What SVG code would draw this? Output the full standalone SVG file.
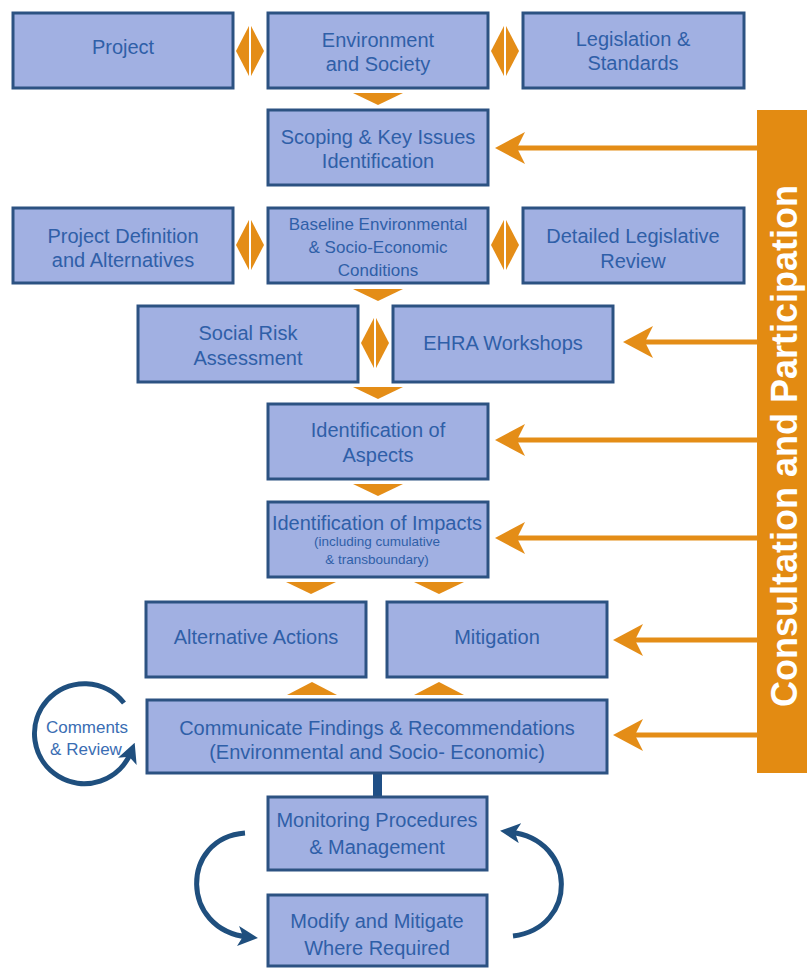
<svg xmlns="http://www.w3.org/2000/svg" xmlns:xlink="http://www.w3.org/1999/xlink" width="807" height="969" viewBox="0 0 807 969">
  <defs>
    <style>
      .box { fill: #a1b0e2; stroke: #2c5282; stroke-width: 3; }
      .lbl { font-family: "Liberation Sans", Arial, sans-serif; font-size: 20px; fill: #2f5fa8; text-anchor: middle; }
      .sm { font-size: 17px; }
      .xs { font-size: 13.5px; }
      .cmt { font-family: "Liberation Sans", Arial, sans-serif; font-size: 17px; fill: #3a6db3; text-anchor: middle; }
      .org { fill: #e48d17; }
      .oline { stroke: #e48d17; stroke-width: 5; fill: none; }
      .blue { stroke: #1f4f7e; stroke-width: 5; fill: none; }
      .split { stroke: #ffffff; stroke-width: 2; }
      .banner-text { font-family: "Liberation Sans", Arial, sans-serif; font-weight: bold; font-size: 36px; fill: #ffffff; text-anchor: middle; }
    </style>
    <!-- swept orange arrowhead, tip at origin, pointing left -->
    <path id="oh" d="M0,0 L30,-16 L22,0 L30,16 Z"/>
    <!-- two-way orange diamond with a white split -->
    <g id="dia">
      <polygon class="org" points="0,-27 14,0 0,27 -14,0"/>
      <line class="split" x1="0" y1="-27" x2="0" y2="27"/>
    </g>
    <polygon id="down" points="-25,0 25,0 0,12"/>
    <polygon id="up" points="-25,0 25,0 0,-13"/>
    <marker id="bh" viewBox="0 0 12 12" refX="6" refY="6" markerWidth="4" markerHeight="4" orient="auto">
      <path d="M0,0 L12,6 L0,12 L3,6 Z" fill="#1f4f7e"/>
    </marker>
  </defs>

  <rect width="807" height="969" fill="#ffffff"/>

  <!-- Consultation and Participation banner -->
  <g id="banner">
    <rect x="757" y="110" width="50" height="663" fill="#e38b12"/>
    <text class="banner-text" transform="translate(797,446) rotate(-90)">Consultation and Participation</text>
  </g>

  <!-- connectors -->
  <g id="connectors">
    <!-- two-way links -->
    <use xlink:href="#dia" x="250" y="51"/>
    <use xlink:href="#dia" x="505" y="51"/>
    <use xlink:href="#dia" x="250" y="245"/>
    <use xlink:href="#dia" x="505" y="245"/>
    <use xlink:href="#dia" x="375" y="343"/>

    <!-- downward flow -->
    <g class="org">
      <use xlink:href="#down" x="378" y="93"/>
      <use xlink:href="#down" x="378" y="289"/>
      <use xlink:href="#down" x="378" y="387"/>
      <use xlink:href="#down" x="378" y="484"/>
      <use xlink:href="#down" x="311" y="582"/>
      <use xlink:href="#down" x="439" y="582"/>
      <use xlink:href="#up" x="312" y="695"/>
      <use xlink:href="#up" x="439" y="695"/>
    </g>

    <!-- consultation inputs -->
    <g class="org">
      <line class="oline" x1="515" y1="148" x2="758" y2="148"/>
      <use xlink:href="#oh" x="495" y="148"/>
      <line class="oline" x1="643" y1="342" x2="758" y2="342"/>
      <use xlink:href="#oh" x="623" y="342"/>
      <line class="oline" x1="515" y1="440" x2="758" y2="440"/>
      <use xlink:href="#oh" x="495" y="440"/>
      <line class="oline" x1="515" y1="538" x2="758" y2="538"/>
      <use xlink:href="#oh" x="495" y="538"/>
      <line class="oline" x1="633" y1="640" x2="758" y2="640"/>
      <use xlink:href="#oh" x="613" y="640"/>
      <line class="oline" x1="633" y1="735" x2="758" y2="735"/>
      <use xlink:href="#oh" x="613" y="735"/>
    </g>

    <!-- comments and review loop -->
    <path class="blue" d="M124,703 A50,50 0 1 0 131,752" marker-end="url(#bh)"/>

    <!-- link to monitoring -->
    <rect x="373" y="773" width="9" height="25" fill="#1f4f86"/>

    <!-- monitoring feedback loop -->
    <path class="blue" d="M245,833 C180,838 180,930 248,937" marker-end="url(#bh)"/>
    <path class="blue" d="M513,936 C578,928 578,840 510,832" marker-end="url(#bh)"/>
  </g>

  <!-- nodes -->
  <g id="project">
    <rect class="box" x="13" y="13" width="220" height="75"/>
    <text class="lbl" x="123" y="54">Project</text>
  </g>
  <g id="environment">
    <rect class="box" x="268" y="13" width="220" height="75"/>
    <text class="lbl" x="378" y="47">Environment</text>
    <text class="lbl" x="378" y="71">and Society</text>
  </g>
  <g id="legislation">
    <rect class="box" x="523" y="13" width="221" height="75"/>
    <text class="lbl" x="633" y="46">Legislation &amp;</text>
    <text class="lbl" x="633" y="70">Standards</text>
  </g>
  <g id="scoping">
    <rect class="box" x="268" y="110" width="220" height="75"/>
    <text class="lbl" x="378" y="144">Scoping &amp; Key Issues</text>
    <text class="lbl" x="378" y="168">Identification</text>
  </g>
  <g id="project-definition">
    <rect class="box" x="13" y="208" width="220" height="75"/>
    <text class="lbl" x="123" y="243">Project Definition</text>
    <text class="lbl" x="123" y="267">and Alternatives</text>
  </g>
  <g id="baseline">
    <rect class="box" x="268" y="208" width="220" height="75"/>
    <text class="lbl sm" x="378" y="230">Baseline Environmental</text>
    <text class="lbl sm" x="378" y="253">&amp; Socio-Economic</text>
    <text class="lbl sm" x="378" y="276">Conditions</text>
  </g>
  <g id="legislative-review">
    <rect class="box" x="523" y="208" width="221" height="75"/>
    <text class="lbl" x="633" y="243">Detailed Legislative</text>
    <text class="lbl" x="633" y="268">Review</text>
  </g>
  <g id="social-risk">
    <rect class="box" x="138" y="306" width="220" height="76"/>
    <text class="lbl" x="248" y="340">Social Risk</text>
    <text class="lbl" x="248" y="365">Assessment</text>
  </g>
  <g id="ehra">
    <rect class="box" x="393" y="306" width="220" height="76"/>
    <text class="lbl" x="503" y="350">EHRA Workshops</text>
  </g>
  <g id="aspects">
    <rect class="box" x="268" y="404" width="220" height="75"/>
    <text class="lbl" x="378" y="437">Identification of</text>
    <text class="lbl" x="378" y="462">Aspects</text>
  </g>
  <g id="impacts">
    <rect class="box" x="268" y="502" width="220" height="75"/>
    <text class="lbl" x="377" y="530">Identification of Impacts</text>
    <text class="lbl xs" x="377" y="546">(including cumulative</text>
    <text class="lbl xs" x="377" y="564">&amp; transboundary)</text>
  </g>
  <g id="alternatives">
    <rect class="box" x="146" y="602" width="220" height="75"/>
    <text class="lbl" x="256" y="644">Alternative Actions</text>
  </g>
  <g id="mitigation">
    <rect class="box" x="387" y="602" width="220" height="75"/>
    <text class="lbl" x="497" y="644">Mitigation</text>
  </g>
  <g id="communicate">
    <rect class="box" x="147" y="700" width="460" height="73"/>
    <text class="lbl" x="377" y="735">Communicate Findings &amp; Recommendations</text>
    <text class="lbl" x="377" y="759">(Environmental and Socio- Economic)</text>
  </g>
  <g id="comments">
    <text class="cmt" x="87" y="733">Comments</text>
    <text class="cmt" x="86" y="755">&amp; Review</text>
  </g>
  <g id="monitoring">
    <rect class="box" x="268" y="797" width="219" height="73"/>
    <text class="lbl" x="377" y="827">Monitoring Procedures</text>
    <text class="lbl" x="377" y="854">&amp; Management</text>
  </g>
  <g id="modify">
    <rect class="box" x="268" y="895" width="219" height="71"/>
    <text class="lbl" x="377" y="928">Modify and Mitigate</text>
    <text class="lbl" x="377" y="955">Where Required</text>
  </g>
</svg>
